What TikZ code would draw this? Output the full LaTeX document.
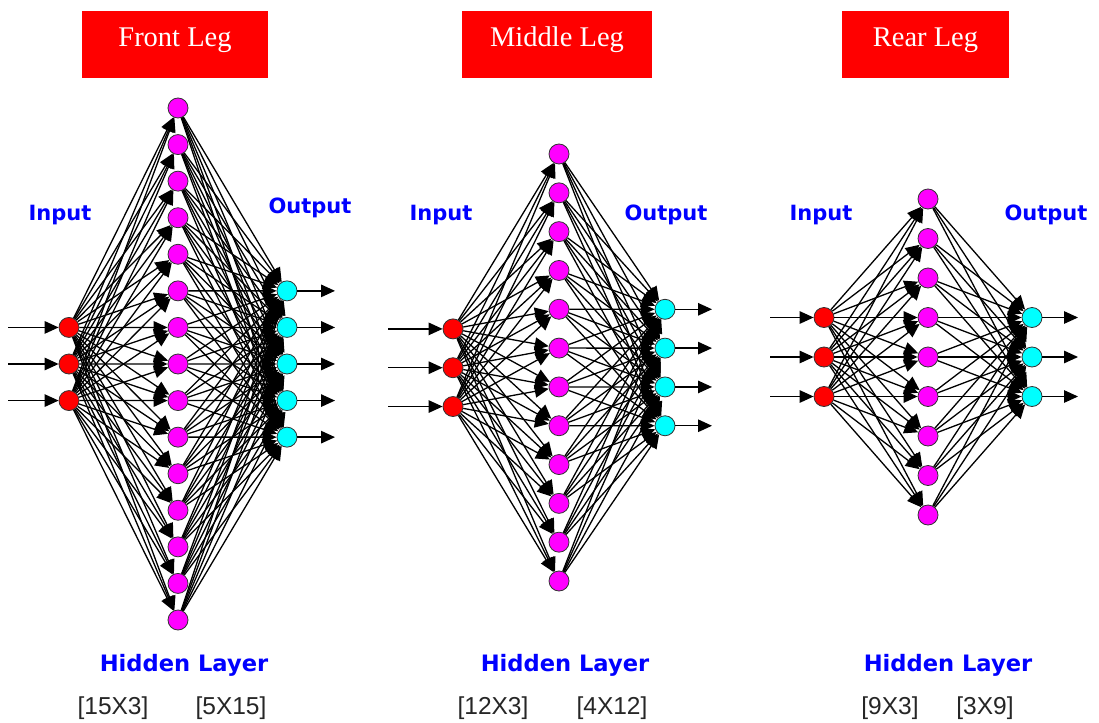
\documentclass[tikz,border=0pt]{standalone}
\usepackage{fontspec}
\setmainfont{Liberation Serif}
\newfontfamily\lblfont{DejaVu Sans}
\newfontfamily\dimfont{Liberation Sans}
\usetikzlibrary{arrows.meta}
\definecolor{pred}{RGB}{255,0,0}
\definecolor{pmag}{RGB}{255,0,255}
\definecolor{pcyan}{RGB}{0,255,255}
\definecolor{pblue}{RGB}{0,0,255}
\begin{document}
\begin{tikzpicture}[x=1pt,y=-1pt,
  titlebox/.style={fill=pred, text=white, inner sep=0pt, minimum height=67pt,
    text height=12pt, text depth=8pt, font=\fontsize{28.5}{30}\selectfont},
  neuron/.style={circle, draw=black!80, line width=0.8pt, minimum size=20pt, inner sep=0pt},
  inp/.style={neuron, fill=pred},
  hid/.style={neuron, fill=pmag},
  outn/.style={neuron, fill=pcyan},
  lbl/.style={text=pblue, anchor=base, inner sep=0pt, font=\lblfont\bfseries\fontsize{21}{24}\selectfont},
  hidlbl/.style={lbl, font=\lblfont\bfseries\fontsize{22.6}{24}\selectfont},
  dimlbl/.style={text=black!85, anchor=base, inner sep=0pt, font=\dimfont\fontsize{24.5}{26}\selectfont},
  conn/.style={-{Triangle[length=14pt,width=12.5pt]}, line width=1.3pt, black}
]
\useasboundingbox (0,0) rectangle (1099,722);
\fill[white] (0,0) rectangle (1099,722);

% ---------------- Front Leg ----------------
\node[titlebox, minimum width=186pt] (f-title) at (175,44.5) {Front Leg};
\node[lbl] (f-inlbl) at (60,220) {Input};
\node[lbl] (f-outlbl) at (310,213) {Output};
\node[hidlbl] (f-hidlbl) at (184,671) {Hidden Layer};
\node[dimlbl] (f-dim1) at (113,714) {[15X3]};
\node[dimlbl] (f-dim2) at (231,714) {[5X15]};
\foreach \k in {1,...,15} \node[hid] (f-h\k) at (178,{108+(\k-1)*36.5714}) {};
\foreach \k in {1,2,3} {
  \node[inp] (f-i\k) at (69,{327.43+(\k-1)*36.5714}) {};
  \coordinate (f-s\k) at (8,{327.43+(\k-1)*36.5714});
}
\foreach \k in {1,...,5} {
  \node[outn] (f-o\k) at (287,{290.86+(\k-1)*36.5714}) {};
  \coordinate (f-e\k) at (335,{290.86+(\k-1)*36.5714});
}
\foreach \i in {1,2,3} \foreach \h in {1,...,15} \draw[conn] (f-i\i) -- (f-h\h);
\foreach \h in {1,...,15} \foreach \o in {1,...,5} \draw[conn] (f-h\h) -- (f-o\o);
\foreach \k in {1,2,3} \draw[conn] (f-s\k) -- (f-i\k);
\foreach \k in {1,...,5} \draw[conn] (f-o\k) -- (f-e\k);

% ---------------- Middle Leg ----------------
\node[titlebox, minimum width=190pt] (m-title) at (557,44.5) {Middle Leg};
\node[lbl] (m-inlbl) at (441,220) {Input};
\node[lbl] (m-outlbl) at (666,220) {Output};
\node[hidlbl] (m-hidlbl) at (565,671) {Hidden Layer};
\node[dimlbl] (m-dim1) at (493,714) {[12X3]};
\node[dimlbl] (m-dim2) at (612,714) {[4X12]};
\foreach \k in {1,...,12} \node[hid] (m-h\k) at (559,{154+(\k-1)*38.818}) {};
\foreach \k in {1,2,3} {
  \node[inp] (m-i\k) at (453,{328.9+(\k-1)*38.818}) {};
  \coordinate (m-s\k) at (388,{328.9+(\k-1)*38.818});
}
\foreach \k in {1,...,4} {
  \node[outn] (m-o\k) at (665,{309.3+(\k-1)*38.818}) {};
  \coordinate (m-e\k) at (712,{309.3+(\k-1)*38.818});
}
\foreach \i in {1,2,3} \foreach \h in {1,...,12} \draw[conn] (m-i\i) -- (m-h\h);
\foreach \h in {1,...,12} \foreach \o in {1,...,4} \draw[conn] (m-h\h) -- (m-o\o);
\foreach \k in {1,2,3} \draw[conn] (m-s\k) -- (m-i\k);
\foreach \k in {1,...,4} \draw[conn] (m-o\k) -- (m-e\k);

% ---------------- Rear Leg ----------------
\node[titlebox, minimum width=167pt] (r-title) at (925.5,44.5) {Rear Leg};
\node[lbl] (r-inlbl) at (821,220) {Input};
\node[lbl] (r-outlbl) at (1046,220) {Output};
\node[hidlbl] (r-hidlbl) at (948,671) {Hidden Layer};
\node[dimlbl] (r-dim1) at (890,714) {[9X3]};
\node[dimlbl] (r-dim2) at (985,714) {[3X9]};
\foreach \k in {1,...,9} \node[hid] (r-h\k) at (928,{199+(\k-1)*39.5}) {};
\foreach \k in {1,2,3} {
  \node[inp] (r-i\k) at (824,{317.5+(\k-1)*39.5}) {};
  \coordinate (r-s\k) at (770,{317.5+(\k-1)*39.5});
  \node[outn] (r-o\k) at (1032,{317.5+(\k-1)*39.5}) {};
  \coordinate (r-e\k) at (1078,{317.5+(\k-1)*39.5});
}
\foreach \i in {1,2,3} \foreach \h in {1,...,9} \draw[conn] (r-i\i) -- (r-h\h);
\foreach \h in {1,...,9} \foreach \o in {1,2,3} \draw[conn] (r-h\h) -- (r-o\o);
\foreach \k in {1,2,3} \draw[conn] (r-s\k) -- (r-i\k);
\foreach \k in {1,2,3} \draw[conn] (r-o\k) -- (r-e\k);
\end{tikzpicture}
\end{document}
